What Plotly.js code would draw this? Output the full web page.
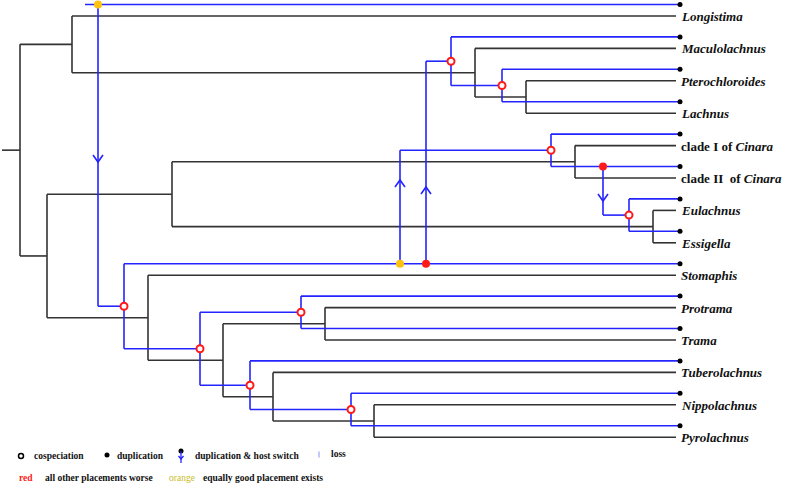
<!DOCTYPE html>
<html><head><meta charset="utf-8">
<script src="https://cdn.plot.ly/plotly-3.0.1.min.js"></script>
<style>html,body{margin:0;padding:0;background:#fff}</style>
</head><body><div id="chart" style="width:787px;height:485px"></div>
<script>
// ---- DATA ----
const taxa = ["<i>Longistima</i>","<i>Maculolachnus</i>","<i>Pterochloroides</i>","<i>Lachnus</i>",
  "clade I of <i>Cinara</i>","clade II\u00a0 of <i>Cinara</i>","<i>Eulachnus</i>","<i>Essigella</i>",
  "<i>Stomaphis</i>","<i>Protrama</i>","<i>Trama</i>","<i>Tuberolachnus</i>","<i>Nippolachnus</i>","<i>Pyrolachnus</i>"];
// host tree: [depth, childA, childB]; numbers are taxon indices
const hostTree = [20, [72, 0, [475, 1, [526, 2, 3]]],
  [47, [172, [575, 4, 5], [653, 6, 7]], [148, 8, [223, [325, 9, 10], [273, 11, [374, 12, 13]]]]]];
const hostRootStart = 2;
// parasite tree: [depth, a, b] = cospeciation node; {tip, events:[[depth, colour, arrowTip, subtree]]}
const pCinara = [551, 4, {tip: 5, events: [[603, "red", 201, [629, 6, 7]]]}];
const pMacu = [451, 1, [502, 2, 3]];
const pBottom = [124, {tip: 8, events: [[400, "orange", 180, pCinara], [426, "red", 187, pMacu]]},
  [200, [301, 9, 10], [250, 11, [351, 12, 13]]]];
const parasiteTree = {tip: 0, start: 85, events: [[98, "orange", 162, pBottom]]};

// ---- LAYOUT HELPERS ----
const tipTop = 16, tipStep = 32.4, pOffset = 11.5;
const hostEnd = 676, parEnd = 680;
const hostY = i => tipTop + tipStep * i;
const parY = i => hostY(i) - pOffset;
const COL = {red: "#ff1a1a", orange: "#ffc20e"};

const hx = [], hy = [];
function seg(ax, ay, x1, y1, x2, y2) { ax.push(x1, x2, null); ay.push(y1, y2, null); }
function drawHost(n, px) {
  if (typeof n === "number") { const y = hostY(n); seg(hx, hy, px, y, hostEnd, y); return y; }
  const [x, a, b] = n;
  const ya = drawHost(a, x), yb = drawHost(b, x), y = (ya + yb) / 2;
  seg(hx, hy, x, ya, x, yb); seg(hx, hy, px, y, x, y); return y;
}
const rootY = drawHost(hostTree, hostRootStart);

const bx = [], by = [];
const cospX = [], cospY = [], evX = [], evY = [], evC = [], tipX = [], tipY = [];
function drawPar(n, px) {
  if (typeof n === "number") {
    const y = parY(n); seg(bx, by, px, y, parEnd, y); tipX.push(parEnd); tipY.push(y); return y;
  }
  if (Array.isArray(n)) {
    const [x, a, b] = n;
    const ya = drawPar(a, x), yb = drawPar(b, x), y = (ya + yb) / 2;
    seg(bx, by, x, ya, x, yb); seg(bx, by, px, y, x, y);
    cospX.push(x); cospY.push(y); return y;
  }
  const y = parY(n.tip);
  seg(bx, by, px, y, parEnd, y); tipX.push(parEnd); tipY.push(y);
  n.events.forEach(([ex, c, at, sub]) => {
    const sy = drawPar(sub, ex);
    seg(bx, by, ex, y, ex, sy);
    const d = sy > y ? -7 : 7; // arms point back toward origin
    bx.push(ex - 5, ex, ex + 5, null); by.push(at + d, at, at + d, null);
    evX.push(ex); evY.push(y); evC.push(COL[c]);
  });
  return y;
}
drawPar(parasiteTree, parasiteTree.start);

const traces = [
  {x: hx, y: hy, mode: "lines", line: {color: "#333333", width: 1.6}, hoverinfo: "skip"},
  {x: bx, y: by, mode: "lines", line: {color: "#2424ff", width: 1.6}, hoverinfo: "skip"},
  {x: tipX, y: tipY, mode: "markers", marker: {color: "#000", size: 5}, hoverinfo: "skip"},
  {x: cospX, y: cospY, mode: "markers", marker: {color: "#fff", size: 7, line: {color: "#ff1a1a", width: 2}}, hoverinfo: "skip"},
  {x: evX, y: evY, mode: "markers", marker: {color: evC, size: 8}, hoverinfo: "skip"},
  // legend icons
  {x: [21], y: [456], mode: "markers", marker: {color: "#fff", size: 5, line: {color: "#000", width: 1.5}}, hoverinfo: "skip"},
  {x: [107, 181], y: [455, 451], mode: "markers", marker: {color: "#000", size: 5}, hoverinfo: "skip"},
  {x: [181, 181, null, 178.5, 181, 183.5], y: [451, 463, null, 456, 459, 456], mode: "lines", line: {color: "#2424ff", width: 1.3}, hoverinfo: "skip"},
  {x: [319, 319], y: [451.5, 457.5], mode: "lines", line: {color: "#9ea3ff", width: 1.2}, hoverinfo: "skip"}
];

const serif = "Liberation Serif, Times New Roman, serif";
const ann = taxa.map((t, i) => ({x: 679, y: hostY(i) + 0.5, xref: "x", yref: "y", text: "<b>" + t + "</b>",
  showarrow: false, xanchor: "left", yanchor: "middle", font: {family: serif, size: 13, color: "#111"}}));
const leg = [
  [32, 456, "<b>cospeciation</b>", "#111"], [115, 456, "<b>duplication</b>", "#111"],
  [193, 456, "<b>duplication &amp; host switch</b>", "#111"], [329, 454, "<b>loss</b>", "#111"],
  [17, 478, "<b>red</b>", "#ff1a1a"], [43, 478, "<b>all other placements worse</b>", "#111"],
  [167, 478, "orange", "#c8bc2a"], [201, 478, "<b>equally good placement exists</b>", "#111"]
];
leg.forEach(([x, y, t, c]) => ann.push({x, y, xref: "x", yref: "y", text: t,
  showarrow: false, xanchor: "left", yanchor: "middle", font: {family: serif, size: 9.5, color: c}}));

Plotly.newPlot("chart", traces, {
  width: 787, height: 485, margin: {l: 0, r: 0, t: 0, b: 0},
  paper_bgcolor: "#fff", plot_bgcolor: "#fff", showlegend: false,
  xaxis: {range: [0, 787], visible: false, fixedrange: true},
  yaxis: {range: [485, 0], visible: false, fixedrange: true},
  annotations: ann
}, {displayModeBar: false, staticPlot: true});
</script></body></html>
